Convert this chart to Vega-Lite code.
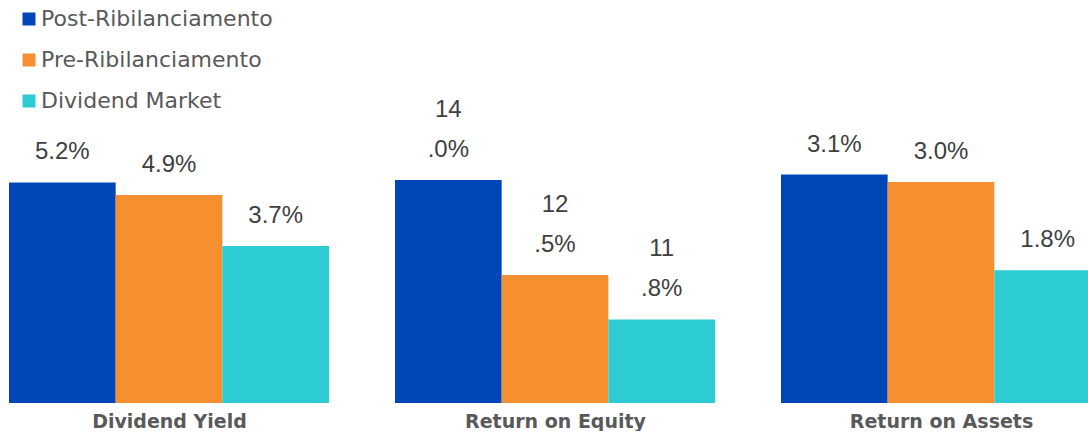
{
  "$schema": "https://vega.github.io/schema/vega-lite/v6.json",
  "background": "white",
  "padding": {"left": 9, "top": 8, "right": 0, "bottom": 0},
  "autosize": {"type": "pad"},
  "spacing": 66,
  "data": {
    "values": [
      {"metric": "Dividend Yield", "series": "Post-Ribilanciamento", "value": 5.2},
      {"metric": "Dividend Yield", "series": "Pre-Ribilanciamento", "value": 4.9},
      {"metric": "Dividend Yield", "series": "Dividend Market", "value": 3.7},
      {"metric": "Return on Equity", "series": "Post-Ribilanciamento", "value": 14.0},
      {"metric": "Return on Equity", "series": "Pre-Ribilanciamento", "value": 12.5},
      {"metric": "Return on Equity", "series": "Dividend Market", "value": 11.8},
      {"metric": "Return on Assets", "series": "Post-Ribilanciamento", "value": 3.1},
      {"metric": "Return on Assets", "series": "Pre-Ribilanciamento", "value": 3.0},
      {"metric": "Return on Assets", "series": "Dividend Market", "value": 1.8}
    ]
  },
  "transform": [{"calculate": "format(datum.value / 100, '.1%')", "as": "label"}],
  "config": {
    "view": {"stroke": null},
    "axis": {
      "labels": false, "ticks": false, "domain": false, "grid": false,
      "titleFont": "DejaVu Sans", "titleFontWeight": "bold", "titleFontSize": 19,
      "titleColor": "#595959", "titlePadding": 9
    },
    "legend": {
      "orient": "none", "legendX": 9, "legendY": -115, "direction": "vertical",
      "title": null, "padding": 0,
      "symbolType": "square", "symbolSize": 169, "symbolStrokeWidth": 0,
      "labelFont": "DejaVu Sans", "labelFontSize": 22, "labelColor": "#595959",
      "labelOffset": 1, "rowPadding": 19, "labelLimit": 400
    },
    "text": {"font": "Liberation Sans", "fontSize": 24, "color": "#404040", "baseline": "middle", "align": "center"}
  },
  "hconcat": [
    {
      "width": 320, "height": 280,
      "transform": [{"filter": "datum.metric === 'Dividend Yield'"}],
      "encoding": {
        "x": {"field": "series", "type": "nominal", "sort": ["Post-Ribilanciamento", "Pre-Ribilanciamento", "Dividend Market"],
              "scale": {"paddingInner": 0, "paddingOuter": 0}, "axis": {"title": "Dividend Yield"}},
        "y": {"field": "value", "type": "quantitative", "scale": {"domain": [0, 6.6], "zero": false, "nice": false}, "axis": null}
      },
      "layer": [
        {"mark": {"type": "bar"},
         "encoding": {"color": {"field": "series", "type": "nominal",
           "scale": {"domain": ["Post-Ribilanciamento", "Pre-Ribilanciamento", "Dividend Market"], "range": ["#0046B8", "#F68F30", "#2DCCD3"]}}}},
        {"mark": {"type": "text", "dy": -30}, "encoding": {"text": {"field": "label"}}}
      ]
    },
    {
      "width": 320, "height": 280,
      "transform": [
        {"filter": "datum.metric === 'Return on Equity'"},
        {"calculate": "replace(datum.label, '.', '\\n.')", "as": "label2"}
      ],
      "encoding": {
        "x": {"field": "series", "type": "nominal", "sort": ["Post-Ribilanciamento", "Pre-Ribilanciamento", "Dividend Market"],
              "scale": {"paddingInner": 0, "paddingOuter": 0}, "axis": {"title": "Return on Equity"}},
        "y": {"field": "value", "type": "quantitative", "scale": {"domain": [10.48, 14.9], "zero": false, "nice": false}, "axis": null}
      },
      "layer": [
        {"mark": {"type": "bar", "clip": true},
         "encoding": {"color": {"field": "series", "type": "nominal",
           "scale": {"domain": ["Post-Ribilanciamento", "Pre-Ribilanciamento", "Dividend Market"], "range": ["#0046B8", "#F68F30", "#2DCCD3"]}}}},
        {"mark": {"type": "text", "dy": -70, "lineBreak": "\n", "lineHeight": 40}, "encoding": {"text": {"field": "label2"}}}
      ]
    },
    {
      "width": 307, "height": 280,
      "transform": [{"filter": "datum.metric === 'Return on Assets'"}],
      "encoding": {
        "x": {"field": "series", "type": "nominal", "sort": ["Post-Ribilanciamento", "Pre-Ribilanciamento", "Dividend Market"],
              "scale": {"paddingInner": 0, "paddingOuter": 0, "range": [0, 320]},
              "axis": {"title": "Return on Assets", "titleX": 160, "titleAnchor": "start", "titleAlign": "center"}},
        "y": {"field": "value", "type": "quantitative", "scale": {"domain": [0, 3.8], "zero": false, "nice": false}, "axis": null}
      },
      "layer": [
        {"mark": {"type": "bar", "clip": true},
         "encoding": {"color": {"field": "series", "type": "nominal",
           "scale": {"domain": ["Post-Ribilanciamento", "Pre-Ribilanciamento", "Dividend Market"], "range": ["#0046B8", "#F68F30", "#2DCCD3"]}}}},
        {"mark": {"type": "text", "dy": -30}, "encoding": {"text": {"field": "label"}}}
      ]
    }
  ]
}
